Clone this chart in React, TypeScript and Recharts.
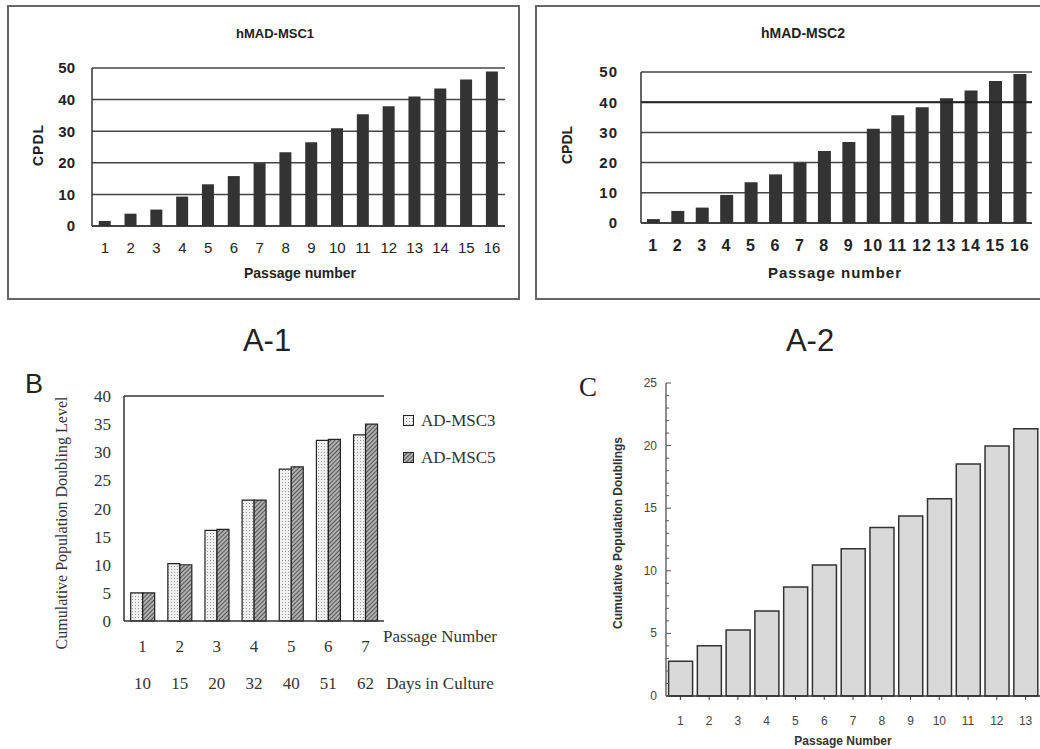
import React from 'react';
import { BarChart, Bar, XAxis, YAxis, CartesianGrid, Legend, ReferenceLine } from 'recharts';

const passagesA = ['1', '2', '3', '4', '5', '6', '7', '8', '9', '10', '11', '12', '13', '14', '15', '16'];
const cpdlMsc1 = [1.6, 3.9, 5.2, 9.3, 13.2, 15.8, 19.9, 23.3, 26.5, 30.9, 35.4, 37.9, 41.0, 43.5, 46.4, 48.9];
const cpdlMsc2 = [1.3, 4.0, 5.1, 9.3, 13.5, 16.1, 20.0, 23.8, 26.8, 31.2, 35.7, 38.3, 41.3, 43.9, 47.0, 49.3];

const passagesB = ['1', '2', '3', '4', '5', '6', '7'];
const daysB = ['10', '15', '20', '32', '40', '51', '62'];
const adMsc3 = [5.0, 10.2, 16.1, 21.5, 27.0, 32.1, 33.1];
const adMsc5 = [5.0, 10.0, 16.3, 21.5, 27.4, 32.3, 35.0];

const passagesC = ['1', '2', '3', '4', '5', '6', '7', '8', '9', '10', '11', '12', '13'];
const cpdC = [2.77, 4.02, 5.27, 6.79, 8.71, 10.46, 11.77, 13.45, 14.38, 15.76, 18.53, 19.97, 21.35];

const SANS = '"Liberation Sans", Arial, sans-serif';
const SERIF = '"Liberation Serif", "Times New Roman", serif';

const dataA1 = passagesA.map((p, i) => ({ p, v: cpdlMsc1[i] }));
const dataA2 = passagesA.map((p, i) => ({ p, v: cpdlMsc2[i] }));
const dataB = passagesB.map((p, i) => ({ p, day: daysB[i], msc3: adMsc3[i], msc5: adMsc5[i] }));
const dataC = passagesC.map((p, i) => ({ p, v: cpdC[i] }));

const Label = ({ x, y, children, size = 14, weight = 400, family = SANS, rotate = false, color = '#222', spacing = 0 }: any) => (
  <div
    style={{
      position: 'absolute', left: x, top: y, fontSize: size, fontWeight: weight, fontFamily: family, color,
      whiteSpace: 'nowrap', letterSpacing: spacing, lineHeight: 1,
      transform: `translate(-50%, -50%)${rotate ? ' rotate(-90deg)' : ''}`,
    }}
  >
    {children}
  </div>
);

const Box = ({ left, top, width, height }: any) => (
  <div style={{ position: 'absolute', left, top, width, height, border: '2px solid #666', boxSizing: 'border-box' }} />
);

// two-line tick: passage number over days in culture
const PassageDayTick = (props: any) => {
  const { x, y, payload, index } = props;
  return (
    <g fontFamily={SERIF} fontSize={17} fill="#333" textAnchor="middle">
      <text x={x} y={y + 18}>{payload.value}</text>
      <text x={x} y={y + 55}>{daysB[index]}</text>
    </g>
  );
};

// minor ticks inside the axis, label only every 5
const MinorTick = (props: any) => {
  const { x, y, payload } = props;
  const major = payload.value % 5 === 0;
  return (
    <g>
      <line x1={x} x2={x + (major ? 5 : 3)} y1={y} y2={y} stroke="#555" strokeWidth={1} />
      {major && (
        <text x={x - 9} y={y + 4} textAnchor="end" fontFamily={SANS} fontSize={12} fill="#444">{payload.value}</text>
      )}
    </g>
  );
};

const renderLegend = () => (
  <div style={{ fontFamily: SERIF, fontSize: 17, color: '#333' }}>
    {[{ name: 'AD-MSC3', fill: 'url(#dotsB)' }, { name: 'AD-MSC5', fill: 'url(#hatchB)' }].map((it) => (
      <div key={it.name} style={{ display: 'flex', alignItems: 'center', height: 37 }}>
        <svg width={11} height={11} style={{ marginRight: 7 }}>
          <rect x={0.5} y={0.5} width={10} height={10} fill={it.fill} stroke="#222" />
        </svg>
        <span>{it.name}</span>
      </div>
    ))}
  </div>
);

export default function App() {
  const tickA = { fontFamily: SANS, fontSize: 14, fontWeight: 700, fill: '#222' };
  return (
    <div style={{ position: 'absolute', left: 0, top: 0, width: 1040, height: 749, overflow: 'hidden', background: '#fff' }}>
      {/* A-1 */}
      <Box left={7} top={5} width={513} height={295} />
      <Label x={275} y={33} size={13} weight={700}>hMAD-MSC1</Label>
      <div style={{ position: 'absolute', left: 7, top: 5 }}>
        <BarChart width={512} height={295} data={dataA1} margin={{ top: 63, right: 14, bottom: 0, left: 0 }} barCategoryGap="26%">
          <CartesianGrid vertical={false} stroke="#444" strokeWidth={1.5} />
          <XAxis dataKey="p" interval={0} height={74} tickLine={false} tickSize={0} tickMargin={16} axisLine={{ stroke: '#333', strokeWidth: 1.5 }} tick={{ ...tickA, fontWeight: 400, fontSize: 15 }} />
          <YAxis domain={[0, 50]} ticks={[0, 10, 20, 30, 40, 50]} width={85} tickLine={false} tickSize={0} tickMargin={17} axisLine={{ stroke: '#333', strokeWidth: 1.5 }} tick={{ ...tickA, fontSize: 15 }} />
          <YAxis yAxisId="r" orientation="right" width={0} tick={false} tickLine={false} axisLine={{ stroke: '#333', strokeWidth: 1.5 }} />
          <Bar dataKey="v" fill="#333" isAnimationActive={false} />
        </BarChart>
      </div>
      <Label x={38} y={145} size={14} weight={700} rotate spacing={1}>CPDL</Label>
      <Label x={300} y={273} size={14} weight={700}>Passage number</Label>

      {/* A-2 */}
      <Box left={535} top={5} width={520} height={295} />
      <Label x={803} y={33} size={14} weight={700}>hMAD-MSC2</Label>
      <div style={{ position: 'absolute', left: 535, top: 5 }}>
        <BarChart width={510} height={295} data={dataA2} margin={{ top: 67, right: 13, bottom: 0, left: 0 }} barCategoryGap="24%">
          <CartesianGrid vertical={false} stroke="#444" strokeWidth={1.5} />
          <ReferenceLine y={40} stroke="#222" strokeWidth={2} />
          <XAxis dataKey="p" interval={0} height={77} tickLine={false} tickSize={0} tickMargin={17} axisLine={{ stroke: '#333', strokeWidth: 1.5 }} tick={{ ...tickA, fontSize: 16, letterSpacing: 1 }} />
          <YAxis domain={[0, 50]} ticks={[0, 10, 20, 30, 40, 50]} width={106} tickLine={false} tickSize={0} tickMargin={23} axisLine={{ stroke: '#333', strokeWidth: 1.5 }} tick={{ ...tickA, fontSize: 15, letterSpacing: 1 }} />
          <YAxis yAxisId="r" orientation="right" width={0} tick={false} tickLine={false} axisLine={{ stroke: '#333', strokeWidth: 1.5 }} />
          <Bar dataKey="v" fill="#333" isAnimationActive={false} />
        </BarChart>
      </div>
      <Label x={567} y={145} size={14} weight={700} rotate>CPDL</Label>
      <Label x={835} y={272} size={15} weight={700} spacing={1}>Passage number</Label>

      <Label x={267} y={340} size={31}>A-1</Label>
      <Label x={810} y={340} size={31}>A-2</Label>

      {/* B */}
      <Label x={34} y={384} size={27}>B</Label>
      <div style={{ position: 'absolute', left: 0, top: 380 }}>
        <BarChart width={520} height={330} data={dataB} margin={{ top: 16, right: 26, bottom: 0, left: 0 }} barCategoryGap="18%" barGap={0}>
          <defs>
            <pattern id="dotsB" width={3} height={3} patternUnits="userSpaceOnUse">
              <rect width={3} height={3} fill="#f0f0f0" />
              <rect width={1} height={1} fill="#999" />
            </pattern>
            <pattern id="hatchB" width={3} height={3} patternUnits="userSpaceOnUse" patternTransform="rotate(45)">
              <rect width={3} height={3} fill="#b0b0b0" />
              <rect width={1} height={3} fill="#555" />
            </pattern>
          </defs>
          <ReferenceLine y={40} stroke="#333" strokeWidth={1.5} />
          <XAxis dataKey="p" interval={0} height={89} tickLine={false} tickSize={0} tickMargin={13} axisLine={{ stroke: '#333', strokeWidth: 1.5 }} tick={<PassageDayTick />} />
          <YAxis domain={[0, 40]} ticks={[0, 5, 10, 15, 20, 25, 30, 35, 40]} width={124} tickLine={false} tickSize={0} tickMargin={13} axisLine={{ stroke: '#333', strokeWidth: 1.5 }} tick={{ fontFamily: SERIF, fontSize: 17, fill: '#333' }} />
          <YAxis yAxisId="r" orientation="right" width={0} tick={false} tickLine={false} axisLine={{ stroke: '#333', strokeWidth: 1.5 }} />
          <Legend layout="vertical" align="right" verticalAlign="top" content={renderLegend} wrapperStyle={{ left: 403, top: 22, width: 110 }} />
          <Bar dataKey="msc3" name="AD-MSC3" fill="url(#dotsB)" stroke="#222" strokeWidth={1.2} isAnimationActive={false} />
          <Bar dataKey="msc5" name="AD-MSC5" fill="url(#hatchB)" stroke="#222" strokeWidth={1.2} isAnimationActive={false} />
        </BarChart>
      </div>
      <Label x={62} y={523} size={16} family={SERIF} color="#333" rotate>Cumulative Population Doubling Level</Label>
      <Label x={440} y={636} size={17} family={SERIF} color="#333">Passage Number</Label>
      <Label x={440} y={683} size={17} family={SERIF} color="#333">Days in Culture</Label>

      {/* C */}
      <Label x={588} y={387} size={27} family={SERIF}>C</Label>
      <div style={{ position: 'absolute', left: 590, top: 370 }}>
        <BarChart width={460} height={379} data={dataC} margin={{ top: 13, right: 10, bottom: 0, left: 0 }} barCategoryGap="9%">
          <XAxis dataKey="p" interval={0} height={53} tickLine={{ stroke: '#333' }} tickSize={4} tickMargin={16} axisLine={{ stroke: '#333', strokeWidth: 1.5 }} tick={{ fontFamily: SANS, fontSize: 12, fill: '#444' }} />
          <YAxis domain={[0, 25]} ticks={Array.from({ length: 26 }, (_, i) => i)} interval={0} width={76} tickLine={false} tickSize={0} tickMargin={0} axisLine={{ stroke: '#444', strokeWidth: 1.2 }} tick={<MinorTick />} />
          <Bar dataKey="v" fill="#d9d9d9" stroke="#333" strokeWidth={1.5} isAnimationActive={false} />
        </BarChart>
      </div>
      <Label x={618} y={533} size={12} weight={700} color="#333" rotate>Cumulative Population Doublings</Label>
      <Label x={843} y={741} size={12} weight={700} color="#333">Passage Number</Label>
    </div>
  );
}
